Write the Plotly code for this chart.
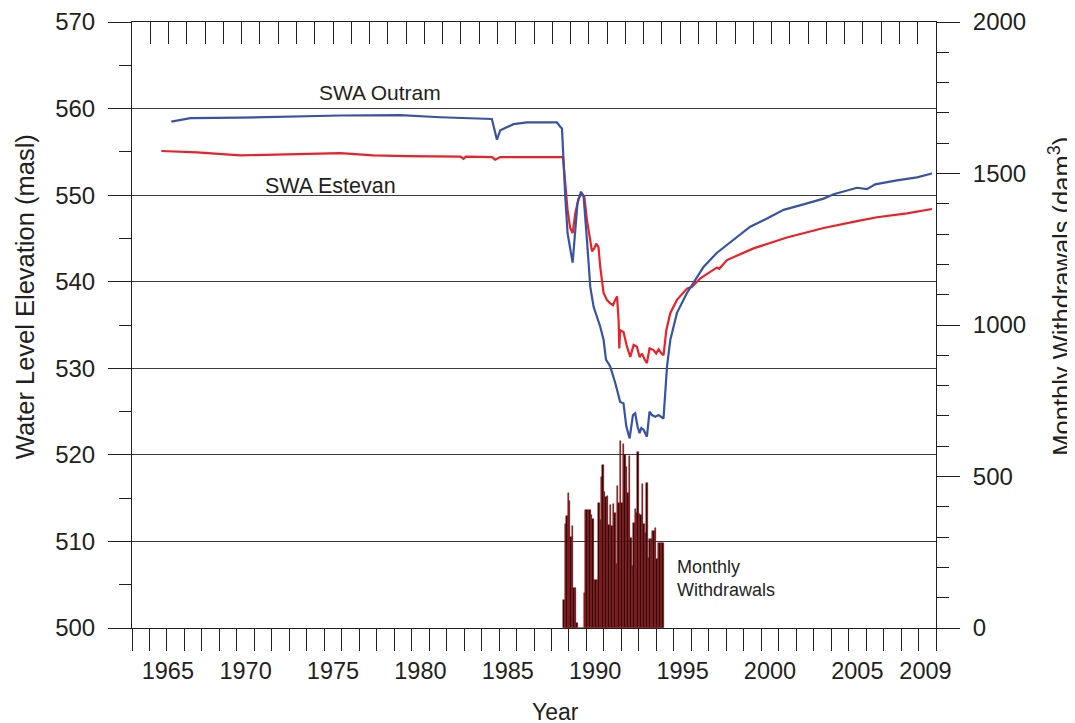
import plotly.graph_objects as go
import pandas as pd

# ---------------- data ----------------
outram_year = [1966.25, 1967.34, 1970.2, 1975.92, 1979.35, 1981.64, 1984.59, 1984.88, 1985.07,
               1985.83, 1986.6, 1988.31, 1988.5, 1988.6, 1988.79, 1988.92, 1989.21, 1989.36,
               1989.49, 1989.69, 1989.84, 1990.03, 1990.22, 1990.41, 1990.79, 1990.98, 1991.12,
               1991.36, 1991.65, 1991.93, 1992.12, 1992.28, 1992.47, 1992.66, 1992.79, 1992.92,
               1993.04, 1993.14, 1993.27, 1993.46, 1993.61, 1993.75, 1993.94, 1994.13, 1994.41,
               1994.61, 1994.8, 1995.18, 1995.75, 1996.04, 1996.52, 1996.7, 1997.47, 1998.42,
               1999.37, 2000.33, 2001.28, 2002.62, 2003.57, 2004.14, 2005.48, 2006.05, 2006.52,
               2007.76, 2008.91, 2009.77]
outram_level = [558.5, 558.9, 558.95, 559.2, 559.25, 559.0, 558.8, 556.4, 557.5,
                558.2, 558.4, 558.4, 557.9, 557.7, 549.8, 545.6, 542.2, 545.6,
                549.1, 550.4, 549.8, 544.8, 539.4, 537.1, 534.8, 533.3, 531.0,
                530.2, 528.3, 526.1, 525.95, 523.3, 521.9, 524.6, 524.8, 523.3,
                522.5, 523.1, 522.9, 522.1, 525.0, 524.6, 524.4, 524.6, 524.2,
                530.2, 533.3, 536.4, 538.7, 539.6, 541.2, 541.7, 543.35, 544.9,
                546.35, 547.3, 548.3, 549.05, 549.6, 550.1, 550.85, 550.7, 551.25,
                551.7, 552.05, 552.5]

estevan_year = [1965.68, 1967.72, 1970.2, 1975.92, 1977.8, 1979.73, 1982.8, 1982.97, 1983.1,
                1984.6, 1984.78, 1985.07, 1988.66, 1988.79, 1988.92, 1989.07, 1989.21, 1989.36,
                1989.55, 1989.74, 1989.88, 1990.03, 1990.22, 1990.32, 1990.46, 1990.56, 1990.69,
                1990.79, 1990.98, 1991.17, 1991.36, 1991.52, 1991.65, 1991.75, 1991.84, 1991.88,
                1991.93, 1992.12, 1992.32, 1992.51, 1992.7, 1992.89, 1993.04, 1993.18, 1993.31,
                1993.46, 1993.61, 1993.84, 1993.99, 1994.13, 1994.26, 1994.41, 1994.57, 1994.8,
                1995.18, 1995.75, 1996.04, 1996.52, 1997.47, 1997.6, 1998.04, 1999.56, 2001.47,
                2003.57, 2005.48, 2006.62, 2008.34, 2009.77]
estevan_level = [555.1, 554.95, 554.6, 554.85, 554.6, 554.5, 554.45, 554.2, 554.45,
                 554.4, 554.1, 554.4, 554.4, 551.0, 548.3, 546.2, 545.6, 547.9,
                 549.6, 550.2, 549.8, 547.1, 544.8, 543.5, 543.9, 544.4, 544.0,
                 541.7, 538.7, 537.9, 537.5, 537.3, 537.9, 538.3, 535.6, 532.3,
                 534.4, 534.2, 532.5, 531.3, 532.7, 532.5, 531.3, 531.7, 531.1,
                 530.6, 532.3, 532.1, 531.7, 532.2, 531.8, 531.5, 534.4, 536.4,
                 537.9, 539.2, 539.4, 540.4, 541.65, 541.5, 542.5, 543.85, 545.1,
                 546.2, 547.0, 547.45, 547.9, 548.4]

withdrawal_months = pd.date_range("1988-09-01", periods=69, freq="MS")
withdrawals = [92, 342, 370, 444, 420, 300, 338, 131, 131, 15, 0, 0, 0, 0,
               117, 389, 389, 389, 389, 373, 359, 158, 158, 158, 411, 356, 499, 538,
               450, 433, 436, 340, 406, 337, 408, 380, 211, 469, 413, 617, 413, 606,
               571, 532, 447, 568, 298, 205, 347, 392, 380, 581, 375, 373, 474, 342,
               315, 480, 232, 293, 293, 320, 320, 331, 227, 280, 280, 282, 282]

year_labels = ["1965", "1970", "1975", "1980", "1985", "1990", "1995", "2000", "2005", "2009"]
left_ticks = [500, 510, 520, 530, 540, 550, 560, 570]
right_ticks = [0, 500, 1000, 1500, 2000]

# --------------------------------------------------------------
FONT = "Liberation Sans, Arial, sans-serif"
INK = "#231f20"

month_x = [d.year + (d.month - 1) / 12 + 1 / 24 for d in withdrawal_months]
label_pos = [1966.05, 1970.5, 1975.5, 1980.5, 1985.5, 1990.5, 1995.5, 2000.5, 2005.5, 2009.4]

fig = go.Figure()

fig.add_trace(go.Bar(
    x=month_x, y=withdrawals, width=[1 / 12] * len(month_x),
    xaxis="x", yaxis="y2",
    marker=dict(color="#240505", line=dict(color="#a3161a", width=0.5)),
    showlegend=False, hoverinfo="skip"))

fig.add_trace(go.Scatter(
    x=estevan_year, y=estevan_level, mode="lines", xaxis="x", yaxis="y",
    line=dict(color="#ec2027", width=2.2), showlegend=False))
fig.add_trace(go.Scatter(
    x=outram_year, y=outram_level, mode="lines", xaxis="x", yaxis="y",
    line=dict(color="#3853a4", width=2.2), showlegend=False))

# helper traces so the overlay axes exist
fig.add_trace(go.Scatter(x=[0], y=[550], xaxis="x2", yaxis="y", mode="markers",
                         marker=dict(opacity=0), showlegend=False, hoverinfo="skip"))
fig.add_trace(go.Scatter(x=[1990], y=[550], xaxis="x3", yaxis="y", mode="markers",
                         marker=dict(opacity=0), showlegend=False, hoverinfo="skip"))

# page body adds an 8 px offset, margins compensate for it
fig.update_layout(
    width=1075, height=723,
    margin=dict(l=124, r=147, t=14, b=103, pad=0, autoexpand=False),
    paper_bgcolor="white", plot_bgcolor="white",
    font=dict(family=FONT, color=INK, size=23),
    bargap=0,
    xaxis=dict(range=[1964, 2010], tickmode="linear", tick0=1964, dtick=1,
               ticks="outside", ticklen=22, tickwidth=1, tickcolor=INK,
               showticklabels=False, showgrid=False, zeroline=False, automargin=False,
               showline=True, linecolor=INK, linewidth=1),
    xaxis2=dict(range=[0, 44], overlaying="x", side="top", anchor="y",
                tickmode="linear", tick0=0, dtick=1, ticks="inside", ticklen=22,
                tickwidth=1, tickcolor=INK, showticklabels=False, showgrid=False,
                zeroline=False, showline=True, linecolor=INK, linewidth=1, automargin=False),
    xaxis3=dict(range=[1964, 2010], overlaying="x", side="bottom", anchor="y",
                tickmode="array", tickvals=label_pos, ticktext=year_labels,
                ticks="", showgrid=False, zeroline=False, showline=False, automargin=False,
                tickfont=dict(size=23.5, color=INK), ticklabelstandoff=26),
    yaxis=dict(range=[500, 570], tickmode="array", tickvals=left_ticks,
               ticks="outside", ticklen=23, tickwidth=1, tickcolor=INK,
               showgrid=True, gridcolor="#3a3a3a", gridwidth=1, zeroline=False,
               showline=True, linecolor=INK, linewidth=1, automargin=False,
               tickfont=dict(size=24, color=INK), ticklabelstandoff=8,
               minor=dict(tickmode="linear", tick0=505, dtick=10, ticks="outside",
                          ticklen=12, tickcolor=INK, tickwidth=1, showgrid=False)),
    yaxis2=dict(range=[0, 2000], overlaying="y", side="right", anchor="x",
                tickmode="array", tickvals=right_ticks,
                ticks="outside", ticklen=23, tickwidth=1, tickcolor=INK,
                showgrid=False, zeroline=False, showline=True, linecolor=INK,
                linewidth=1, automargin=False, tickfont=dict(size=24, color=INK),
                ticklabelstandoff=8,
                minor=dict(tickmode="linear", tick0=0, dtick=100, ticks="outside",
                           ticklen=12, tickcolor=INK, tickwidth=1, showgrid=False)),
)

annos = [
    dict(text="SWA Outram", x=1978.2, y=561.8, xref="x", yref="y", font=dict(size=21)),
    dict(text="SWA Estevan", x=1975.35, y=551.05, xref="x", yref="y", font=dict(size=21.5)),
    dict(text="Monthly<br>Withdrawals", x=1995.05, y=505.7, xref="x", yref="y",
         xanchor="left", align="left", font=dict(size=18)),
    dict(text="Year", x=0.527, y=-0.138, xref="paper", yref="paper", font=dict(size=23)),
    dict(text="Water Level Elevation (masl)", x=-0.133, y=0.546, xref="paper", yref="paper",
         textangle=-90, font=dict(size=25.5)),
    dict(text="Monthly Withdrawals (dam<sup>3</sup>)", x=1.154, y=0.548, xref="paper",
         yref="paper", textangle=-90, font=dict(size=25.5)),
]
for a in annos:
    a.setdefault("showarrow", False)
    a.setdefault("xanchor", "center")
    a.setdefault("yanchor", "middle")
    a["font"] = dict(family=FONT, color=INK, size=a["font"]["size"])
    fig.add_annotation(**a)

fig.write_html("out.html")
